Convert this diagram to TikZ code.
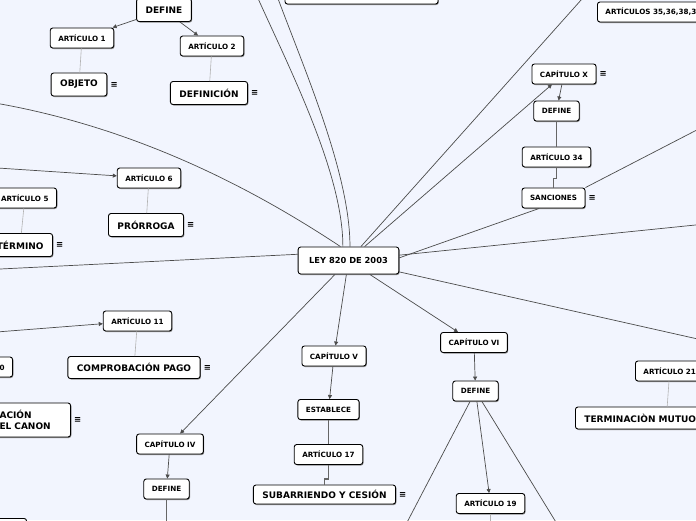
\documentclass[tikz,border=0pt]{standalone}
\usepackage{fontspec}
\setmainfont{DejaVu Sans}
\usetikzlibrary{arrows.meta, positioning, shadows}
\definecolor{mapbg}{RGB}{242,245,254}
\definecolor{linkgray}{RGB}{75,75,75}
\definecolor{notegray}{RGB}{178,178,178}
\tikzset{
  topic/.style={rectangle, rounded corners=2.5pt, draw=black, line width=0.9pt, fill=white, minimum height=23pt, inner xsep=9pt, inner ysep=2pt, text centered, font=\bfseries\fontsize{9}{11}\selectfont, general shadow={fill=black!45, shadow xshift=0.8pt, shadow yshift=-1pt}},
  subtopic/.style={topic, minimum height=20pt, inner xsep=8pt, font=\bfseries\fontsize{7.2}{9}\selectfont},
  central/.style={topic, minimum height=27pt, inner xsep=11pt, font=\bfseries\fontsize{8.3}{10}\selectfont},
  menu/.style={inner sep=0pt, font=\bfseries\fontsize{8.5}{8.5}\selectfont},
  arrow/.style={draw=linkgray, line width=0.7pt, -{Triangle[length=4pt, width=4pt]}},
  link/.style={draw=linkgray, line width=0.7pt},
  trunk/.style={draw=linkgray!85, line width=1.5pt},
  note/.style={draw=notegray, line width=0.6pt}
}

\begin{document}
\begin{tikzpicture}[x=1pt, y=-1pt]

  \useasboundingbox (0,0) rectangle (696,520);
  \clip (0,0) rectangle (696,520);
  \fill [mapbg] (0,0) rectangle (696,520);

  \node (ley) [central] at (348.5,260.5) {LEY 820 DE 2003};

  \node (defI) [topic] at (164,10) {DEFINE};
  \node (art1) [subtopic] at (82,38) {ARTÍCULO 1};
  \node (art2) [subtopic] at (212,46) {ARTÍCULO 2};
  \node (objeto) [topic] at (79,84.5) {OBJETO};
  \node (objetoM) [menu, right=3pt of objeto] {≡};
  \node (definicion) [topic] at (209,93) {DEFINICIÓN};
  \node (definicionM) [menu, right=3pt of definicion] {≡};
  \node (capTop) [topic, minimum width=153pt, minimum height=24pt] at (361.5,-8) {};

  \node (art35) [subtopic, anchor=west] at (597,12) {ARTÍCULOS 35,36,38,39};
  \node (capX) [subtopic] at (564,74) {CAPÍTULO X};
  \node (capXM) [menu, right=3pt of capX] {≡};
  \node (defX) [subtopic] at (556.5,111) {DEFINE};
  \node (art34) [subtopic] at (556.5,157) {ARTÍCULO 34};
  \node (sanciones) [subtopic] at (553.5,198) {SANCIONES};
  \node (sancionesM) [menu, right=3pt of sanciones] {≡};

  \node (art6) [subtopic] at (149,178) {ARTÍCULO 6};
  \node (prorroga) [topic] at (146,225) {PRÓRROGA};
  \node (prorrogaM) [menu, right=3pt of prorroga] {≡};
  \node (art5) [subtopic, anchor=east] at (57,198) {ARTÍCULO 5};
  \node (termino) [topic, anchor=east] at (53,245) {TÉRMINO};
  \node (terminoM) [menu, right=3pt of termino] {≡};

  \node (art11) [subtopic] at (137.5,321) {ARTÍCULO 11};
  \node (comprob) [topic, minimum height=22pt] at (134,367.5) {COMPROBACIÓN PAGO};
  \node (comprobM) [menu, right=3pt of comprob] {≡};
  \node (art10) [subtopic, anchor=east] at (13,367) {ARTÍCULO 10};
  \node (canon) [topic, anchor=east, align=left, text width=62pt, minimum height=34pt] at (71,420) {ACIÓN\\EL CANON};
  \node (canonM) [menu, right=3pt of canon] {≡};

  \node (capIV) [subtopic] at (170,444) {CAPÍTULO IV};
  \node (defIV) [subtopic] at (166.5,489) {DEFINE};
  \node (capBottom) [subtopic, anchor=north east, minimum width=60pt] at (27,518) {};

  \node (capV) [subtopic] at (334,356) {CAPÍTULO V};
  \node (establece) [subtopic] at (328.5,409.5) {ESTABLECE};
  \node (art17) [subtopic] at (328.5,454.5) {ARTÍCULO 17};
  \node (subarr) [topic, minimum height=19pt] at (324.5,494.5) {SUBARRIENDO Y CESIÓN};
  \node (subarrM) [menu, right=3pt of subarr] {≡};

  \node (capVI) [subtopic] at (474,342.5) {CAPÍTULO VI};
  \node (defVI) [subtopic] at (475.5,391) {DEFINE};
  \node (art19) [subtopic] at (490.5,503.5) {ARTÍCULO 19};
  \node (art21) [subtopic, anchor=west] at (635,371) {ARTÍCULO 21};
  \node (termmutuo) [topic, minimum height=22pt, anchor=west] at (575,418) {TERMINACIÒN MUTUO ACUERDO};

  \coordinate (outNW1) at (252,-15);
  \coordinate (outNW2) at (273,-15);
  \coordinate (outW1) at (-5,103);
  \coordinate (outW2) at (-10,269.5);
  \coordinate (outNE) at (590,-10);
  \coordinate (outE1) at (720,118);
  \coordinate (outE2) at (720,222.5);
  \coordinate (outSE) at (720,344);
  \coordinate (inArt6) at (-10,167.5);
  \coordinate (inArt5) at (-30,177);
  \coordinate (inArt11) at (-10,332.5);
  \coordinate (outS1) at (166.5,530);
  \coordinate (outS2) at (402,532);
  \coordinate (outS3) at (562,532);
  \coordinate (outS4) at (490.5,530);

  \draw [arrow] (defI) -- (art1);
  \draw [arrow] (defI) -- (art2);
  \draw [note] (art1) -- (objeto);
  \draw [note] (art2) -- (definicion);

  \draw [link] (ley.112) .. controls (343,170) and (285,60) .. (outNW1);
  \draw [link] (ley.84) .. controls (350,170) and (300,60) .. (outNW2);
  \draw [link] (outW1) .. controls (150,130) and (270,200) .. (ley.120);
  \draw [link] (ley.173) -- (outW2);

  \draw [arrow] (ley) -- (capX);
  \draw [link] (ley) -- (outNE);
  \draw [arrow] (capX) -- (defX);
  \draw [trunk] (defX) -- (art34);
  \draw [trunk] (art34.south) -- ++(0,11) -| (sanciones.north);
  \draw [link] (sanciones.north east) -- (outE1);
  \draw [link] (sanciones.-144) -- (ley.3);
  \draw [link] (ley.6) -- (outE2);

  \draw [arrow] (inArt6) -- (art6);
  \draw [arrow] (inArt5) -- (art5);
  \draw [note] (art6) -- (prorroga);
  \draw [note] (art5) -- (termino);
  \draw [arrow] (inArt11) -- (art11);
  \draw [note] (art11) -- (comprob);

  \draw [arrow] (ley) -- (capIV);
  \draw [arrow] (capIV) -- (defIV);
  \draw [trunk] (defIV) -- (outS1);

  \draw [arrow] (ley) -- (capV);
  \draw [arrow] (capV) -- (establece);
  \draw [trunk] (establece) -- (art17);
  \draw [trunk] (art17.south) -- ++(0,14) -| (subarr.north);

  \draw [arrow] (ley) -- (capVI);
  \draw [arrow] (capVI) -- (defVI);
  \draw [arrow] (defVI) -- (art19);
  \draw [link] (defVI) -- (outS2);
  \draw [link] (defVI) -- (outS3);
  \draw [note] (art19) -- (outS4);
  \draw [link] (ley) -- (outSE);
  \draw [note] (art21) -- (termmutuo);

\end{tikzpicture}
\end{document}
